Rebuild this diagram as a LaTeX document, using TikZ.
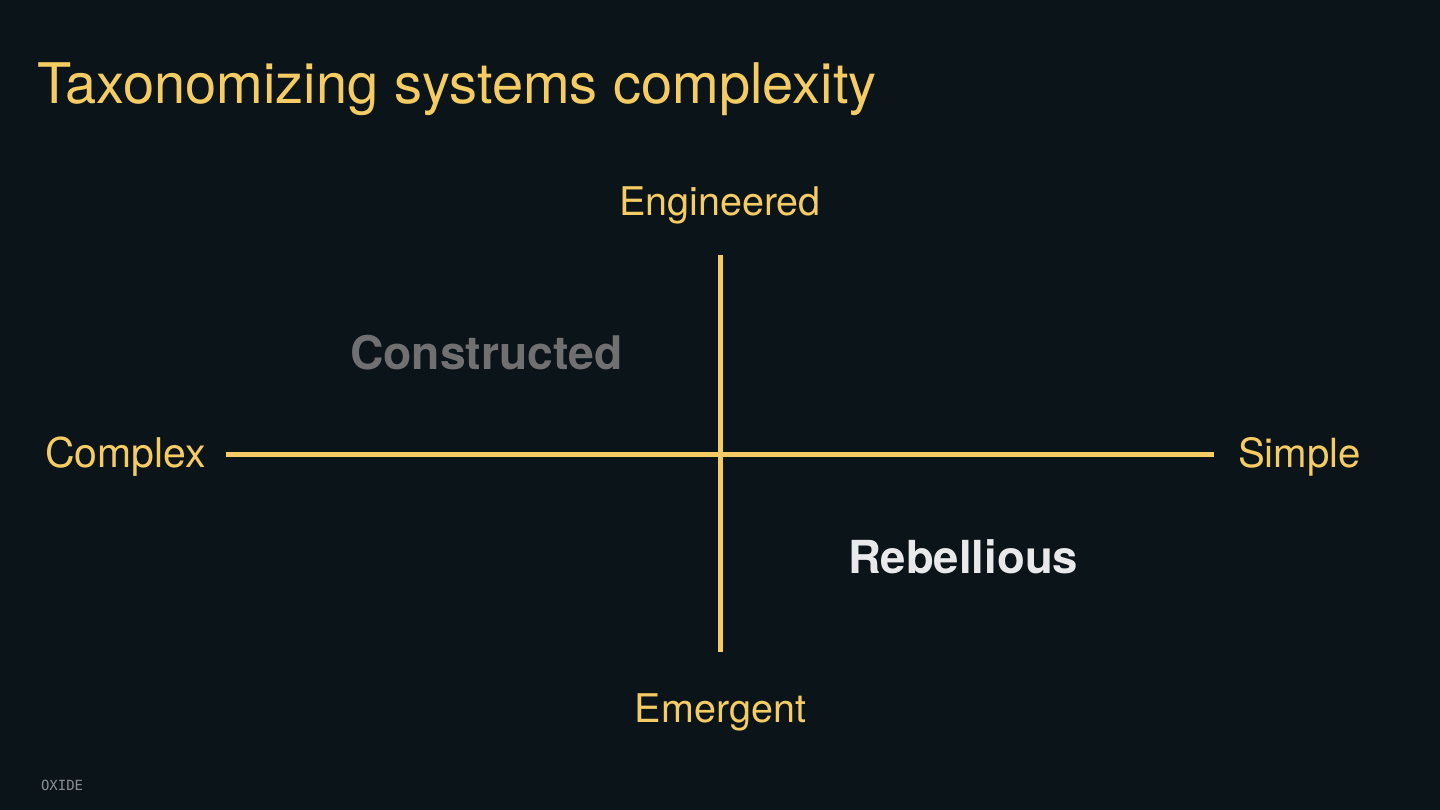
\documentclass[tikz,border=0pt]{standalone}
\usepackage{fontspec}
\setmainfont{TeX Gyre Heros}
\newfontfamily\monofont{DejaVu Sans Mono}
\definecolor{bg}{HTML}{0B1419}
\definecolor{ylw}{HTML}{F5CB63}
\definecolor{dimgray}{HTML}{707070}
\definecolor{brite}{HTML}{E8E9EA}
\definecolor{foot}{HTML}{8A8F93}
\tikzset{
  txt/.style={inner sep=0pt, outer sep=0pt},
  axislabel/.style={txt, text=ylw, font=\fontsize{39.5}{44}\selectfont},
  quadlabel/.style={txt, font=\fontsize{46.3}{50}\selectfont\bfseries},
  axis/.style={draw=ylw, line width=5pt, line cap=butt},
}
\begin{document}
\begin{tikzpicture}[x=1pt,y=-1pt]
\fill[bg] (0,0) rectangle (1440,810);
\useasboundingbox (0,0) rectangle (1440,810);
\node[txt, anchor=base west, text=ylw, font=\fontsize{56}{60}\selectfont] (title) at (37,104) {Taxonomizing systems complexity};
\coordinate (top) at (720,255);
\coordinate (bottom) at (720,652);
\coordinate (left) at (226,454);
\coordinate (right) at (1214,454);
\draw[axis] (left) -- (right);
\draw[axis] (top) -- (bottom);
\node[axislabel, anchor=base] (eng) at (720,216) {Engineered};
\node[axislabel, anchor=base] (emg) at (720.5,722) {Emergent};
\node[axislabel, anchor=base east, font=\fontsize{41}{44}\selectfont] (cpx) at (206,467) {Complex};
\node[axislabel, anchor=base west, font=\fontsize{40.2}{44}\selectfont] (smp) at (1238,467) {Simple};
\node[quadlabel, anchor=base west, text=dimgray] (con) at (350,369) {Constructed};
\node[quadlabel, anchor=base west, text=brite, font=\fontsize{45.5}{50}\selectfont\bfseries] (reb) at (848,573) {Rebellious};
\node[txt, anchor=base west, text=foot, font=\monofont\fontsize{14}{15}\selectfont] (oxide) at (41,790) {OXIDE};
\end{tikzpicture}
\end{document}
